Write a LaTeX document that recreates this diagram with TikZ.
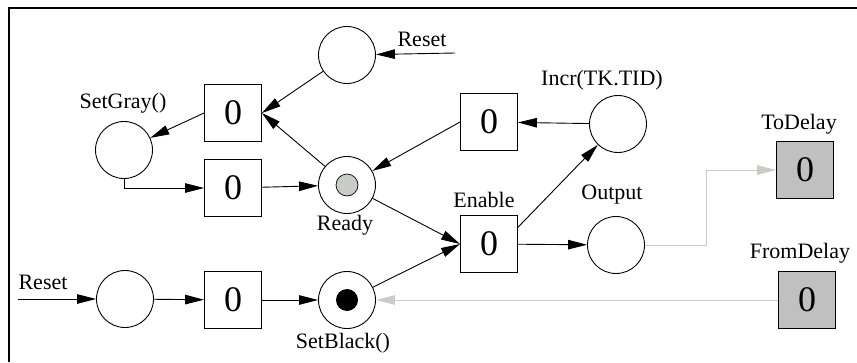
\documentclass[tikz,border=0pt]{standalone}
\usepackage{fontspec}
\setmainfont{Liberation Serif}
\usetikzlibrary{arrows.meta}
\definecolor{boxgray}{RGB}{192,192,192}
\definecolor{linkgray}{RGB}{200,204,200}
\begin{document}
\begin{tikzpicture}[x=1pt,y=-1pt,
  place/.style={circle,draw,line width=0.9pt,minimum size=57pt,inner sep=0pt},
  trans/.style={rectangle,draw,line width=0.9pt,minimum size=57pt,inner sep=0pt,
                font=\fontsize{36}{36}\selectfont},
  delay/.style={trans,fill=boxgray},
  lbl/.style={font=\fontsize{22}{22}\selectfont,inner sep=0pt},
  arc/.style={line width=0.9pt,-{Triangle[length=19pt,width=9.5pt]}},
  grayarc/.style={line width=0.9pt,draw=linkgray,
                  -{Triangle[length=19pt,width=9.5pt,fill=linkgray]}}]
\useasboundingbox (0,0) rectangle (857,362);
% open frame
\draw[line width=1.3pt] (9,362) -- (9,8) -- (857,8);

% places
\node[place] (ptop) at (347,55) {};
\node[place] (setgray) at (124,150) {};
\node[place] (ready) at (347,185) {};
\node[place] (incr) at (618,124) {};
\node[place] (output) at (616,245) {};
\node[place] (p1) at (125,299) {};
\node[place] (setblack) at (347,300) {};
\fill[linkgray,draw=black,line width=0.7pt] (ready) circle (11pt);
\fill[black] (setblack) circle (11pt);

% transitions
\node[trans] (tg) at (233,113) {0};
\node[trans] (t2) at (233,188) {0};
\node[trans] (tincr) at (489,122) {0};
\node[trans] (enable) at (489,244) {0};
\node[trans] (t3) at (233,300) {0};
\node[delay] (todelay) at (805,170) {0};
\node[delay] (fromdelay) at (807,300) {0};

% labels
\node[lbl] (lsetgray) at (123,103) {SetGray()};
\node[lbl] (lready) at (345,225) {Ready};
\node[lbl] (lsetblack) at (343,343) {SetBlack()};
\node[lbl] (lenable) at (484,200) {Enable};
\node[lbl] (lincr) at (602,80) {Incr(TK.TID)};
\node[lbl] (loutput) at (612,195) {Output};
\node[lbl] (ltodelay) at (799,124) {ToDelay};
\node[lbl] (lfromdelay) at (800,253) {FromDelay};
\node[lbl] (lreset1) at (422,39) {Reset};
\node[lbl] (lreset2) at (43,282) {Reset};

% free ends of the reset inputs
\coordinate (rin1) at (455,53);
\coordinate (rin2) at (18,299);

% arcs
\draw[arc] (rin1) -- (ptop);
\draw[arc] (ptop) -- (tg.east);
\draw[arc] (ready) -- (tg.east);
\draw[arc] (tg.west) -- (setgray);
\draw[arc] (setgray.south) |- (t2.west);
\draw[arc] (t2) -- (ready);
\draw[arc] (tincr.west) -- (ready);
\draw[arc] (incr) -- (tincr);
\draw[arc] (ready) -- (enable.west);
\draw[arc] (setblack) -- (enable.west);
\draw[arc] (enable.30) -- (incr);
\draw[arc] (enable) -- (output);
\draw[arc] (rin2) -- (p1);
\draw[arc] (p1) -- (t3);
\draw[arc] (t3) -- (setblack);
\draw[grayarc] (output.east) -- ++(61,0) |- (todelay.west);
\draw[grayarc] (fromdelay.west) -- (setblack);
\end{tikzpicture}
\end{document}
